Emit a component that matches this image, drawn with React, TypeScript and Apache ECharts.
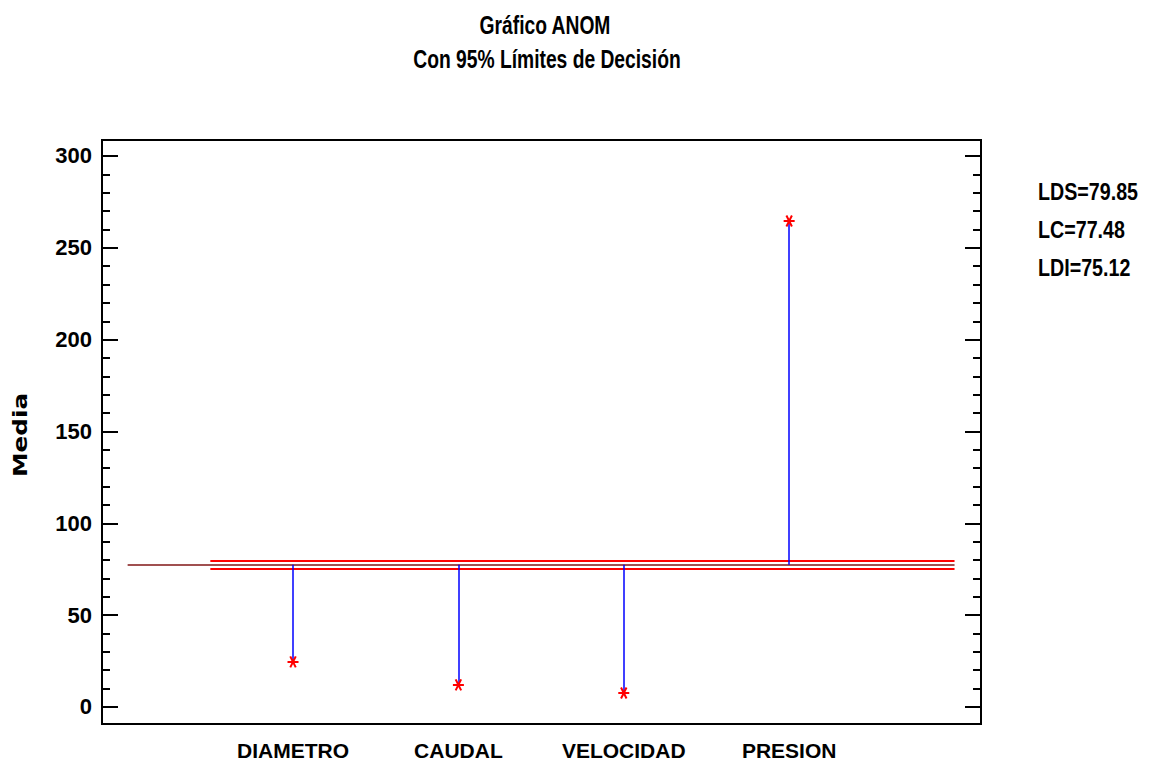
import React, { useEffect, useRef } from "react";
import * as echarts from "echarts";

const categories = ["DIAMETRO", "CAUDAL", "VELOCIDAD", "PRESION"];
const means = [24.5, 12.0, 7.6, 264.6];
const LDS = 79.85;
const LC = 77.48;
const LDI = 75.12;
const majorTicks = [0, 50, 100, 150, 200, 250, 300];
const minorTicks = [0, 10, 20, 30, 40, 50, 60, 70, 80, 90, 100, 110, 120, 130, 140, 150, 160, 170, 180, 190, 200, 210, 220, 230, 240, 250, 260, 270, 280, 290, 300];
const limitLabels = ["LDS=79.85", "LC=77.48", "LDI=75.12"];
const titleLines = ["Gráfico ANOM", "Con 95% Límites de Decisión"];
const yAxisName = "Media";

const SANS = '"Liberation Sans", Arial, sans-serif';

export default function App() {
  const ref = useRef<HTMLDivElement>(null);
  useEffect(() => {
    const chart = echarts.init(ref.current!, undefined, { renderer: "svg" });
    const yMin = -9.3;
    const yMax = 308.7;
    const xMin = -0.155;
    const xMax = 5.16;
    const positions = categories.map((_, i) => i + 1);

    const yAxisBase = (pos: string, len: number, ticks: number[], showLabel: boolean) => ({
      type: "value",
      position: pos,
      min: yMin,
      max: yMax,
      axisLine: { show: true, onZero: false, lineStyle: { color: "#000", width: 2 } },
      axisTick: { show: true, inside: true, length: len, customValues: ticks, lineStyle: { color: "#000", width: 2 } },
      axisLabel: showLabel
        ? { show: true, customValues: ticks, color: "#000", fontFamily: SANS, fontWeight: "bold", fontSize: 22, margin: 10 }
        : { show: false },
      splitLine: { show: false },
    });

    const narrowText = (text: string, x: number, y: number, align: string, size: number, sx: number) => ({
      type: "text",
      x,
      y,
      scaleX: sx,
      style: {
        text,
        font: `bold ${size}px ${SANS}`,
        fill: "#000",
        align,
        verticalAlign: "middle",
        textAlign: align,
        textVerticalAlign: "middle",
      },
    });

    const option: any = {
      animation: false,
      backgroundColor: "#fff",
      grid: { left: 102, top: 140, right: 170, bottom: 45, show: true, borderColor: "#000", borderWidth: 2, backgroundColor: "transparent" },
      xAxis: {
        type: "value",
        min: xMin,
        max: xMax,
        axisLine: { show: true, onZero: false, lineStyle: { color: "#000", width: 2 } },
        axisTick: { show: false },
        splitLine: { show: false },
        axisLabel: {
          show: true,
          customValues: positions,
          formatter: (v: number) => categories[Math.round(v) - 1] ?? "",
          color: "#000",
          fontFamily: SANS,
          fontWeight: "bold",
          fontSize: 21,
          margin: 16,
        },
      },
      yAxis: [
        yAxisBase("left", 16, majorTicks, true),
        yAxisBase("left", 8, minorTicks, false),
        yAxisBase("right", 16, majorTicks, false),
        yAxisBase("right", 8, minorTicks, false),
      ],
      graphic: [
        narrowText(titleLines[0], 545, 26, "center", 25, 0.77),
        narrowText(titleLines[1], 547, 60, "center", 25, 0.77),
        ...limitLabels.map((t, i) => narrowText(t, 1038, 192 + i * 38, "left", 24, 0.82)),
        {
          type: "text",
          x: 21,
          y: 435,
          rotation: Math.PI / 2,
          scaleX: 1.3,
          style: {
            text: yAxisName,
            font: 'bold 19px "DejaVu Sans", sans-serif',
            fill: "#000",
            align: "center",
            verticalAlign: "middle",
            textAlign: "center",
            textVerticalAlign: "middle",
          },
        },
      ],
      series: [
        {
          type: "lines",
          coordinateSystem: "cartesian2d",
          silent: true,
          lineStyle: { color: "#ff0000", width: 2, opacity: 1 },
          data: [
            { coords: [[0.5, LDS], [5, LDS]] },
            { coords: [[0.5, LDI], [5, LDI]] },
          ],
        },
        {
          type: "lines",
          coordinateSystem: "cartesian2d",
          silent: true,
          lineStyle: { color: "#a05050", width: 2, opacity: 1 },
          data: [{ coords: [[0, LC], [5, LC]] }],
        },
        {
          type: "lines",
          coordinateSystem: "cartesian2d",
          silent: true,
          lineStyle: { color: "#0000ff", width: 1.5, opacity: 1 },
          data: positions.map((p, i) => ({ coords: [[p, LC], [p, means[i]]] })),
        },
        {
          type: "scatter",
          silent: true,
          symbol: "path://M5,0L5,10M0.7,2.5L9.3,7.5M0.7,7.5L9.3,2.5",
          symbolSize: 11,
          symbolRotate: 90,
          itemStyle: { color: "none", borderColor: "#ff0000", borderWidth: 2, opacity: 1 },
          data: positions.map((p, i) => [p, means[i]]),
        },
      ],
    };
    chart.setOption(option);
    return () => chart.dispose();
  }, []);
  return <div ref={ref} style={{ width: 1151, height: 769, margin: -8 }} />;
}
